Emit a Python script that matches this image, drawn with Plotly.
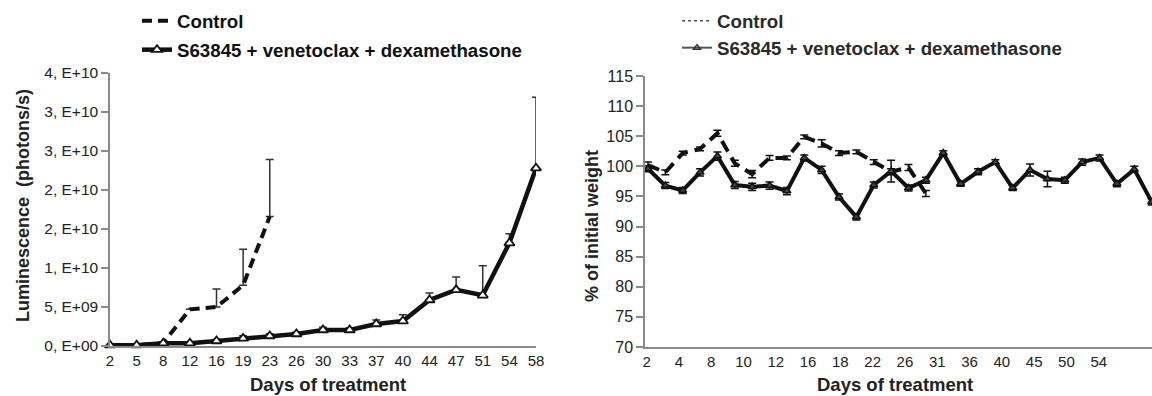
import plotly.graph_objects as go

# ---------------- data: luminescence (left) ----------------
lum_days = ["2", "5", "8", "12", "16", "19", "23", "26", "30", "33", "37", "40", "44", "47", "51", "54", "58"]
lum_control = [0.1e9, 0.1e9, 0.4e9, 4.7e9, 5.0e9, 7.8e9, 16.6e9]
lum_control_err = [0, 0, 0, 0, 2.3e9, 4.6e9, 7.3e9]
lum_treat = [0.1e9, 0.1e9, 0.35e9, 0.35e9, 0.64e9, 0.98e9, 1.28e9, 1.54e9, 2.05e9, 2.05e9,
             2.82e9, 3.2e9, 5.9e9, 7.2e9, 6.5e9, 13.2e9, 22.8e9]
lum_treat_err = [0.05e9, 0.05e9, 0.1e9, 0.1e9, 0.2e9, 0.35e9, 0.3e9, 0.25e9, 0.35e9, 0.3e9,
                 0.5e9, 0.8e9, 0.9e9, 1.65e9, 3.8e9, 1.2e9, 9.1e9]
lum_tickvals = [0, 5e9, 1e10, 1.5e10, 2e10, 2.5e10, 3e10, 3.5e10]
lum_ticktext = ["0, E+00", "5, E+09", "1, E+10", "2, E+10", "2, E+10", "3, E+10", "3, E+10", "4, E+10"]

# ---------------- data: body weight (right) ----------------
wt_control = [100.2, 99.0, 102.2, 102.9, 105.5, 100.5, 98.7, 101.4, 101.4, 104.9, 103.8,
              102.2, 102.4, 100.7, 99.1, 99.8, 95.5]
wt_control_err = [0.5, 0.4, 0.3, 0.3, 0.5, 0.5, 0.6, 0.4, 0.3, 0.3, 0.6, 0.4, 0.3, 0.4, 0.5, 0.5, 0.5]
wt_treat = [99.6, 96.8, 96.0, 99.0, 101.7, 96.9, 96.6, 96.8, 95.9, 101.4, 99.4, 94.9, 91.6,
            96.9, 99.2, 96.4, 97.7, 102.2, 97.1, 99.1, 100.7, 96.4, 99.4, 97.9, 97.7, 100.7,
            101.4, 97.1, 99.5, 94.1]
wt_treat_err = [0.5, 0.5, 0.5, 0.6, 0.7, 0.6, 0.6, 0.6, 0.6, 0.5, 0.6, 0.5, 0.5, 0.5, 1.8,
                0.5, 0.5, 0.4, 0.4, 0.5, 0.4, 0.4, 1.0, 1.3, 0.5, 0.5, 0.5, 0.5, 0.5, 0.5]
wt_day_labels = ["2", "4", "8", "10", "12", "16", "18", "22", "26", "31", "36", "40", "45", "50", "54"]
wt_yticks = [70, 75, 80, 85, 90, 95, 100, 105, 110, 115]

FONT = "Liberation Sans, Arial, Helvetica, sans-serif"
INK = "#111111"
AXIS = "#8a8a8a"
TXT = "#222222"
W, H = 1152, 396


def px_x(p):
    return p / W


def px_y(p):
    return 1 - p / H


tri = dict(symbol="triangle-up", size=9, color="white", line=dict(color=INK, width=1.8))

fig = go.Figure()

# ---- left chart ----
fig.add_trace(go.Scatter(
    x=lum_days[:len(lum_control)], y=lum_control, name="Control", mode="lines",
    line=dict(color=INK, width=4, dash="10px,6px"),
    error_y=dict(type="data", symmetric=False, array=lum_control_err,
                 arrayminus=[0] * len(lum_control), color="#333333", thickness=1.5, width=4),
    xaxis="x", yaxis="y", legend="legend", cliponaxis=False))
fig.add_trace(go.Scatter(
    x=lum_days, y=lum_treat, name="S63845 + venetoclax + dexamethasone", mode="lines+markers",
    line=dict(color=INK, width=4.5), marker=tri,
    error_y=dict(type="data", symmetric=False, array=lum_treat_err,
                 arrayminus=[0] * len(lum_treat), color="#333333", thickness=1.5, width=4),
    xaxis="x", yaxis="y", legend="legend2", cliponaxis=False))

# ---- right chart ----
fig.add_trace(go.Scatter(
    x=list(range(len(wt_control))), y=wt_control, mode="lines", showlegend=False,
    line=dict(color=INK, width=4, dash="12px,7px"),
    error_y=dict(type="data", array=wt_control_err, color=INK, thickness=1.5, width=4),
    xaxis="x2", yaxis="y2"))
fig.add_trace(go.Scatter(
    x=list(range(len(wt_treat))), y=wt_treat, mode="lines+markers", showlegend=False,
    line=dict(color=INK, width=4), marker=dict(symbol="triangle-up", size=7, color="#444",
                                                 line=dict(color=INK, width=1.5)),
    error_y=dict(type="data", array=wt_treat_err, color=INK, thickness=1.5, width=4),
    xaxis="x2", yaxis="y2"))
# right legend entries (thin sample lines, as in the original)
fig.add_trace(go.Scatter(x=[None], y=[None], name="Control", mode="lines",
                         line=dict(color="#555555", width=1.5, dash="dot"),
                         xaxis="x2", yaxis="y2", legend="legend3"))
fig.add_trace(go.Scatter(x=[None], y=[None], name="S63845 + venetoclax + dexamethasone",
                         mode="lines+markers", line=dict(color="#555555", width=2),
                         marker=dict(symbol="triangle-up-open", size=6, color="#333",
                                     line=dict(width=1.5)),
                         xaxis="x2", yaxis="y2", legend="legend4"))
# tick-label axis carrier (invisible)
fig.add_trace(go.Scatter(x=[None], y=[None], xaxis="x3", yaxis="y2", showlegend=False,
                         hoverinfo="skip"))

xtitle_font = dict(family=FONT, size=18.5, color=TXT, weight="bold")
ytitle_font = dict(family=FONT, size=18, color=TXT, weight="bold")
tick_font = dict(family=FONT, size=15, color=TXT)


def legend_at(x_px, y_px, color=INK):
    return dict(x=px_x(x_px), y=px_y(y_px), xref="container", yref="container",
                xanchor="left", yanchor="middle",
                bgcolor="rgba(0,0,0,0)", font=dict(family=FONT, size=18.7, color=color, weight="bold"),
                borderwidth=0, tracegroupgap=0)


def axis_title(text, x_px, y_px, angle, font):
    return dict(text=text, x=px_x(x_px), y=px_y(y_px), xref="paper", yref="paper",
                xanchor="center", yanchor="middle", textangle=angle, showarrow=False,
                font=font)


fig.update_layout(
    template="none",
    width=W, height=H, margin=dict(l=0, r=0, t=0, b=0, autoexpand=False),
    paper_bgcolor="white", plot_bgcolor="white",
    font=dict(family=FONT, color=TXT),
    xaxis=dict(domain=[px_x(110), px_x(536)], type="category", range=[0, 16], automargin=False,
               showline=True, linecolor=AXIS, linewidth=1.5, ticks="", showgrid=False,
               tickfont=tick_font, anchor="y"),
    yaxis=dict(domain=[px_y(346), px_y(73)], range=[0, 3.5e10], tickvals=lum_tickvals,
               ticktext=lum_ticktext, showline=True, linecolor=AXIS, linewidth=1.5,
               ticks="outside", ticklen=7, tickcolor=AXIS, tickwidth=1.5, showgrid=False,
               zeroline=False, tickfont=dict(family=FONT, size=15.5, color=TXT), anchor="x",
               automargin=False),
    xaxis2=dict(domain=[px_x(645), 1.0], range=[-0.17, 29.02], showline=False, automargin=False,
                showticklabels=False, ticks="", showgrid=False, zeroline=False, anchor="y2"),
    xaxis3=dict(domain=[px_x(645), 1.0], overlaying="x2", anchor="y2", range=[-0.05, 15.65],
                tickvals=list(range(len(wt_day_labels))), ticktext=wt_day_labels,
                showline=True, linecolor=AXIS, linewidth=1.5, ticks="", showgrid=False,
                zeroline=False, tickfont=tick_font, automargin=False),
    yaxis2=dict(domain=[px_y(347), px_y(76)], range=[70, 115], tickvals=wt_yticks,
                showline=True, linecolor=AXIS, linewidth=1.5, ticks="outside", ticklen=7,
                tickcolor=AXIS, tickwidth=1.5, showgrid=False, zeroline=False,
                tickfont=dict(family=FONT, size=16, color=TXT), anchor="x2", automargin=False),
    annotations=[axis_title("Luminescence  (photons/s)", 23, 206, -90, ytitle_font),
                 axis_title("% of initial weight", 592, 226, -90, ytitle_font),
                 axis_title("Days of treatment", 328, 384, 0, xtitle_font),
                 axis_title("Days of treatment", 895, 384, 0, xtitle_font)],
    legend=legend_at(137, 21),
    legend2=legend_at(137, 50),
    legend3=legend_at(677, 21, "#2a2a2a"),
    legend4=legend_at(677, 48, "#2a2a2a"),
)

fig.write_html("out.html")
